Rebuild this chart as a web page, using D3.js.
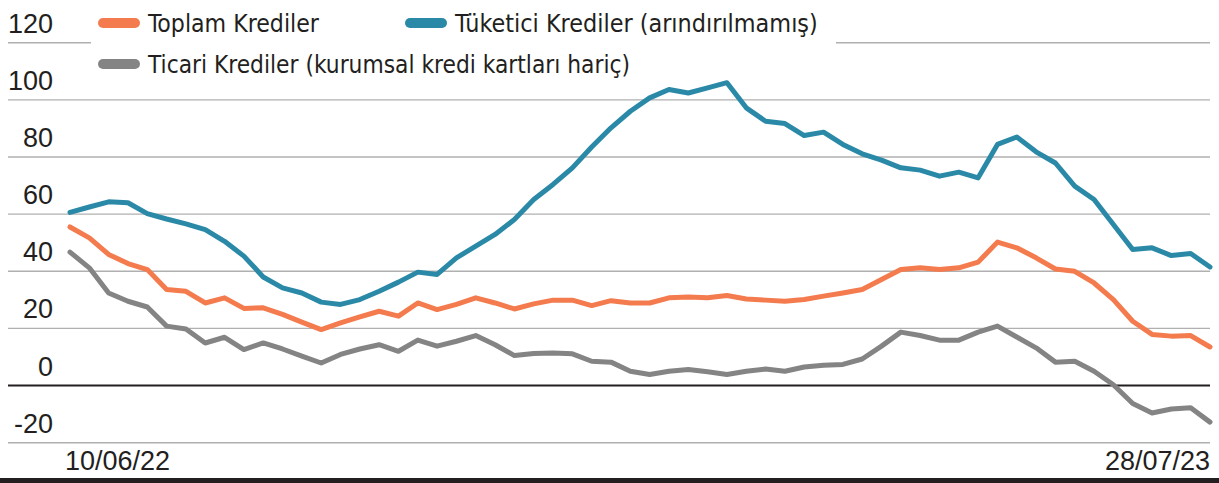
<!DOCTYPE html>
<html>
<head>
<meta charset="utf-8">
<script src="https://cdn.jsdelivr.net/npm/d3@7"></script>
<style>
  html, body { margin: 0; padding: 0; background: #fff; }
  svg { display: block; }
</style>
</head>
<body>
<svg id="chart" width="1219" height="483"></svg>
<script>
// ---------- data ----------
const startDate = "2022-06-10";
const weekCount = 60;
const seriesNames = ["Toplam Krediler", "Tüketici Krediler (arındırılmamış)", "Ticari Krediler (kurumsal kredi kartları hariç)"];
const seriesColors = ["#f47b4e", "#2b89a8", "#848484"];

const toplam = [
  55.5, 51.7, 45.9, 42.7, 40.6, 33.6, 33.0, 28.9, 30.7, 27.0,
  27.2, 24.9, 22.2, 19.6, 21.9, 24.0, 26.0, 24.3, 28.9, 26.6,
  28.4, 30.7, 28.9, 26.8, 28.6, 29.9, 29.9, 28.0, 29.7, 28.9,
  28.9, 30.7, 31.0, 30.7, 31.5, 30.3, 29.9, 29.5, 30.1, 31.3,
  32.4, 33.6, 37.1, 40.6, 41.2, 40.6, 41.2, 43.2, 50.2, 48.2,
  44.7, 40.8, 40.0, 35.9, 30.1, 22.5, 17.9, 17.3, 17.5, 13.5
];
const tuketici = [
  60.6, 62.5, 64.3, 64.0, 60.2, 58.3, 56.6, 54.6, 50.5, 45.3,
  38.0, 34.2, 32.4, 29.2, 28.4, 30.1, 33.0, 36.2, 39.7, 38.9,
  44.7, 48.8, 52.9, 58.1, 65.1, 70.4, 76.2, 83.5, 90.2, 96.0,
  100.7, 103.6, 102.4, 104.2, 106.0, 97.2, 92.5, 91.7, 87.5, 88.7,
  84.4, 81.1, 78.9, 76.2, 75.4, 73.3, 74.7, 72.7, 84.4, 87.0,
  81.8, 77.9, 69.8, 65.1, 56.4, 47.6, 48.2, 45.5, 46.2, 41.5
];
const ticari = [
  46.7, 41.2, 32.4, 29.5, 27.5, 20.8, 19.8, 14.9, 16.9, 12.6,
  14.9, 12.8, 10.3, 7.9, 10.9, 12.8, 14.3, 12.0, 15.9, 13.8,
  15.5, 17.5, 14.3, 10.5, 11.2, 11.4, 11.1, 8.5, 8.2, 5.0,
  3.9, 5.0, 5.6, 4.8, 3.9, 5.0, 5.8, 5.0, 6.5, 7.1,
  7.4, 9.3, 13.8, 18.7, 17.5, 15.9, 15.9, 18.7, 20.8, 17.0,
  13.2, 8.2, 8.5, 5.0, 0.3, -6.3, -9.6, -8.2, -7.8, -12.8
];
const yTicks = [-20, 0, 20, 40, 60, 80, 100, 120];
const xTickLabels = ["10/06/22", "28/07/23"];

// ---------- build ----------
const parse = d3.utcParse("%Y-%m-%d");
const dates = d3.range(weekCount).map(i => d3.utcDay.offset(parse(startDate), i * 7));
const seriesValues = [toplam, tuketici, ticari];

const svg = d3.select("#chart");
const textColor = "#231f20";

const x = d3.scaleUtc().domain([dates[0], dates[dates.length - 1]]).range([70, 1210]);
const y = d3.scaleLinear().domain([-20, 120]).range([442.7, 42.7]);

// gridlines
const grid = svg.append("g");
yTicks.forEach(t => {
  grid.append("line")
    .attr("x1", 8).attr("x2", 1210)
    .attr("y1", y(t)).attr("y2", y(t))
    .attr("stroke", t === 0 ? "#231f20" : "#b0b0b0")
    .attr("stroke-width", t === 0 ? 2 : 1.4);
});

// y labels
const numFont = "'Liberation Sans', Arial, sans-serif";
svg.append("g").selectAll("text").data(yTicks).join("text")
  .attr("x", 53)
  .attr("y", d => y(d) - 10)
  .attr("text-anchor", "end")
  .attr("font-family", numFont)
  .attr("font-size", 27)
  .attr("fill", textColor)
  .text(d => d);

// lines
const line = d3.line().x((d, i) => x(dates[i])).y(d => y(d));
const drawOrder = [2, 0, 1];
drawOrder.forEach(k => {
  svg.append("path")
    .datum(seriesValues[k])
    .attr("d", line)
    .attr("fill", "none")
    .attr("stroke", seriesColors[k])
    .attr("stroke-width", 5)
    .attr("stroke-linejoin", "round")
    .attr("stroke-linecap", "round");
});

// x labels
svg.append("text")
  .attr("x", x(dates[0]) - 5).attr("y", 470)
  .attr("font-family", numFont).attr("font-size", 27).attr("fill", textColor)
  .text(xTickLabels[0]);
svg.append("text")
  .attr("x", x(dates[dates.length - 1])).attr("y", 470)
  .attr("text-anchor", "end")
  .attr("font-family", numFont).attr("font-size", 27).attr("fill", textColor)
  .text(xTickLabels[1]);

// bottom rule
svg.append("rect").attr("x", 0).attr("y", 478).attr("width", 1219).attr("height", 5).attr("fill", "#231f20");

// legend
const legFont = "'Liberation Sans Narrow', 'Arial Narrow', 'DejaVu Sans Condensed', sans-serif";
const legend = svg.append("g");
legend.append("rect").attr("x", 91).attr("y", 30).attr("width", 745).attr("height", 22).attr("fill", "#fff");
const legItems = [
  {k: 0, sx: 98, ty: 32, tx: 148, w: 171},
  {k: 1, sx: 405, ty: 32, tx: 455, w: 363},
  {k: 2, sx: 98, ty: 73, tx: 148, w: 482}
];
legItems.forEach(it => {
  legend.append("line")
    .attr("x1", it.sx + 5).attr("x2", it.sx + 37)
    .attr("y1", it.ty - 9).attr("y2", it.ty - 9)
    .attr("stroke", seriesColors[it.k]).attr("stroke-width", 10).attr("stroke-linecap", "round");
  const t = legend.append("text")
    .attr("x", it.tx).attr("y", it.ty)
    .attr("font-family", legFont).attr("font-size", 28).attr("fill", textColor)
    .text(seriesNames[it.k]);
  const len = t.node().getComputedTextLength();
  if (len > 0) t.attr("font-size", 28 * it.w / len);
});
</script>
</body>
</html>
